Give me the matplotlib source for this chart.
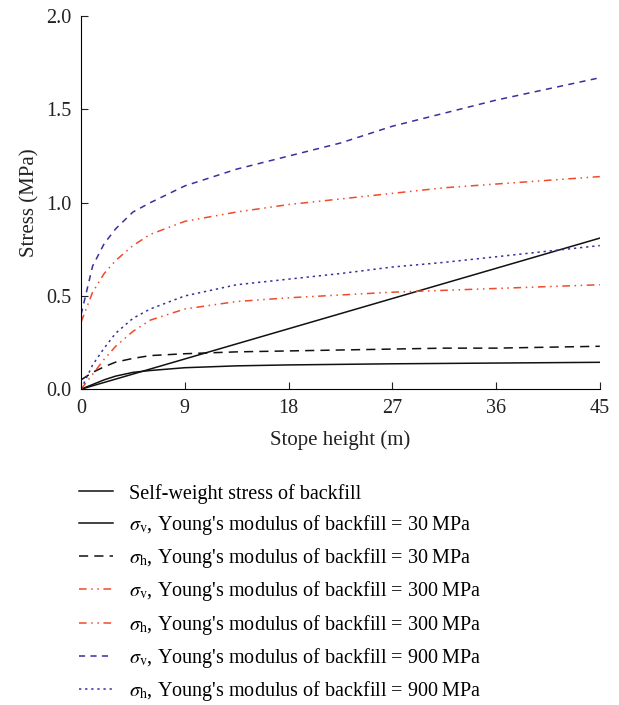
import numpy as np
import matplotlib
matplotlib.use("Agg")
import matplotlib.pyplot as plt

plt.rcParams['font.family'] = ['Liberation Serif', 'DejaVu Serif']
plt.rcParams['mathtext.fontset'] = 'stix'

# stope height (m)
h = [0, 1, 2, 3, 4.5, 6, 9, 13.5, 18, 22.5, 27, 31.5, 36, 40.5, 45]

# stress (MPa)
self_weight_x = [0, 45]
self_weight = [0.0, 0.81]
sv_30 = [0.0, 0.025, 0.05, 0.07, 0.09, 0.10, 0.115, 0.125, 0.13, 0.133, 0.136, 0.138, 0.14, 0.142, 0.144]
sh_30 = [0.05, 0.09, 0.12, 0.145, 0.165, 0.18, 0.19, 0.20, 0.205, 0.21, 0.215, 0.22, 0.22, 0.225, 0.23]
sv_300 = [0.36, 0.52, 0.62, 0.69, 0.77, 0.83, 0.90, 0.95, 0.99, 1.02, 1.05, 1.08, 1.10, 1.12, 1.14]
sh_300 = [0.0, 0.08, 0.16, 0.23, 0.31, 0.37, 0.43, 0.47, 0.49, 0.505, 0.52, 0.53, 0.54, 0.55, 0.56]
sv_900 = [0.40, 0.66, 0.78, 0.86, 0.95, 1.00, 1.09, 1.18, 1.25, 1.32, 1.41, 1.48, 1.55, 1.61, 1.67]
sh_900 = [0.0, 0.13, 0.22, 0.30, 0.38, 0.43, 0.50, 0.56, 0.59, 0.62, 0.655, 0.68, 0.71, 0.74, 0.77]

labels = [
    "Self-weight stress of backfill",
    r"$\sigma_{\rm v}$, Young's modulus of backfill = 30" + "\u2009MPa",
    r"$\sigma_{\rm h}$, Young's modulus of backfill = 30" + "\u2009MPa",
    r"$\sigma_{\rm v}$, Young's modulus of backfill = 300" + "\u2009MPa",
    r"$\sigma_{\rm h}$, Young's modulus of backfill = 300" + "\u2009MPa",
    r"$\sigma_{\rm v}$, Young's modulus of backfill = 900" + "\u2009MPa",
    r"$\sigma_{\rm h}$, Young's modulus of backfill = 900" + "\u2009MPa",
]

red = '#f04a2a'
blue = '#3a2f9c'
ink = '#222222'

fig = plt.figure(figsize=(6.19, 7.05), dpi=100)
ax = fig.add_axes([0.131, 0.448, 0.838, 0.529])

ax.plot(self_weight_x, self_weight, color='#111111', lw=1.1, label=labels[0])
ax.plot(h, sv_30, color='#111111', lw=1.1, label=labels[1])
ax.plot(h, sh_30, color='#111111', lw=1.1, ls=(0, (6, 4)), label=labels[2])
ax.plot(h, sv_300, color=red, lw=1.1, ls=(0, (5, 3, 1, 3, 1, 3)), label=labels[3])
ax.plot(h, sh_300, color=red, lw=1.1, ls=(0, (5, 3, 1, 3, 1, 3)), label=labels[4])
ax.plot(h, sv_900, color=blue, lw=1.1, ls=(0, (4, 3.5)), label=labels[5])
ax.plot(h, sh_900, color=blue, lw=1.1, ls=(0, (1.5, 2.5)), label=labels[6])

ax.set_xlim(0, 45)
ax.set_ylim(0, 2.0)
ax.set_xticks([0, 9, 18, 27, 36, 45])
ax.set_yticks([0.0, 0.5, 1.0, 1.5, 2.0])
ax.set_yticklabels(['0.0', '0.5', '1.0', '1.5', '2.0'])
ax.spines['top'].set_visible(False)
ax.spines['right'].set_visible(False)
ax.tick_params(direction='in', length=5, labelsize=14.5, colors=ink, pad=7)
ax.set_xlabel('Stope height (m)', fontsize=15, color=ink, labelpad=9)
ax.set_ylabel('Stress (MPa)', fontsize=15, color=ink, labelpad=5)

handles, labs = ax.get_legend_handles_labels()
fig.legend(handles, labs, loc='upper left', bbox_to_anchor=(0.128, 0.314),
           frameon=False, fontsize=14.5, handlelength=1.7, handletextpad=0.75,
           labelspacing=0.46, borderaxespad=0, borderpad=0)

fig.savefig('out.png', dpi=100)
